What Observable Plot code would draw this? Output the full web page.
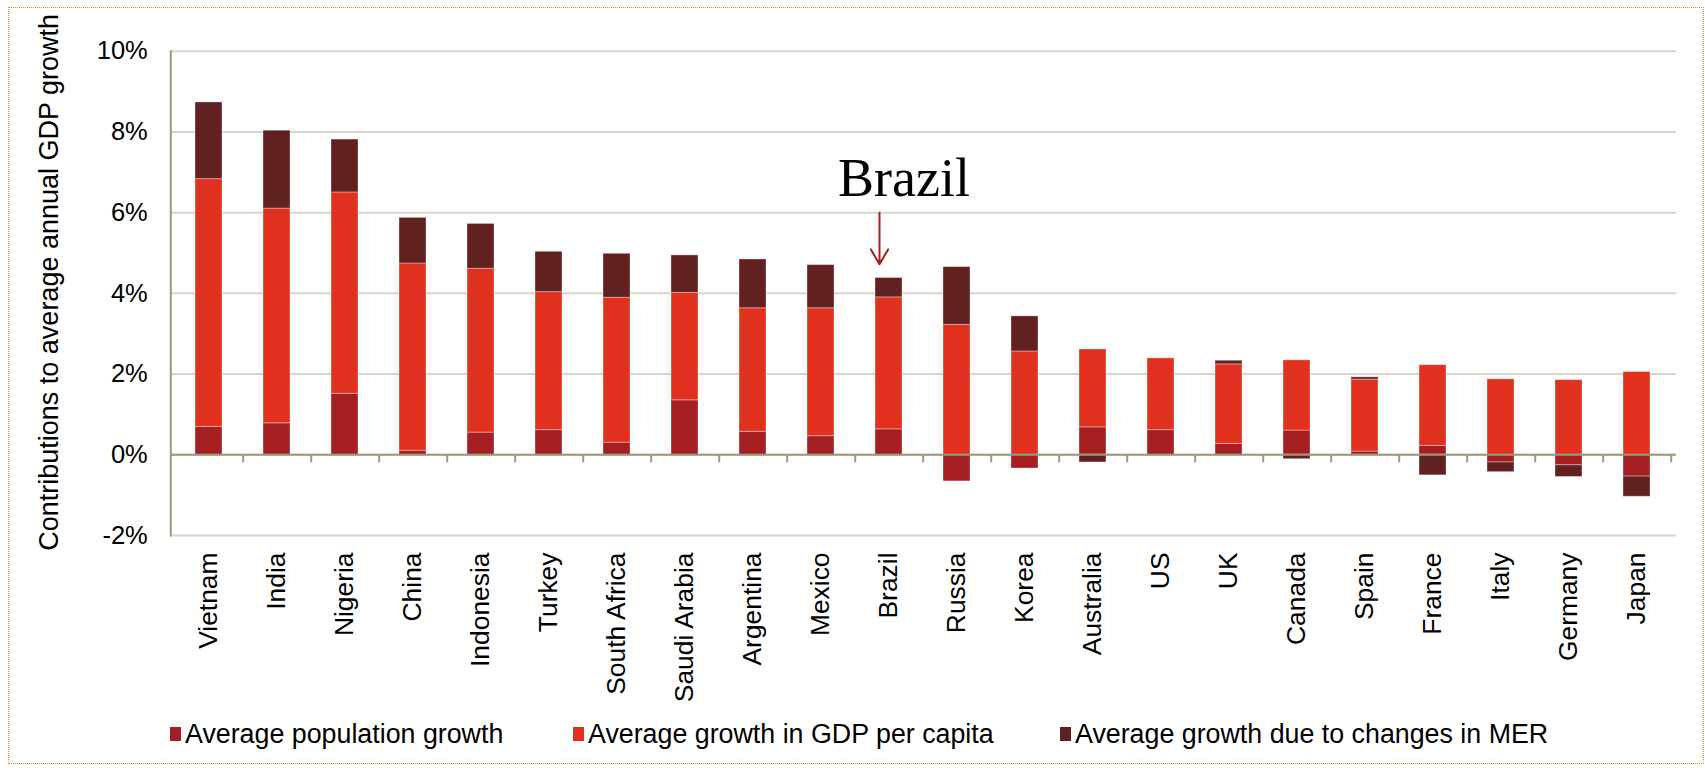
<!DOCTYPE html>
<html>
<head>
<meta charset="utf-8">
<script src="https://cdn.jsdelivr.net/npm/d3@7"></script>
<script src="https://cdn.jsdelivr.net/npm/@observablehq/plot@0.6"></script>
<style>
html, body { margin: 0; padding: 0; background: #fff; }
#wrap { position: relative; width: 1705px; height: 768px; overflow: hidden; font-family: "Liberation Sans", Arial, sans-serif; }
#frame { position: absolute; left: 8px; top: 7px; width: 1696px; height: 757px; border: 1.5px dotted #E8892B; box-sizing: border-box; }
#chart { position: absolute; left: 0; top: 0; }
.sw { position: absolute; top: 727px; width: 11px; height: 14px; }
.lt { position: absolute; top: 718.5px; font-size: 26.8px; line-height: 30px; color: #000; white-space: nowrap; }
</style>
</head>
<body>
<div id="wrap">
  <div id="frame"></div>
  <div id="chart"></div>
  <div id="legend"></div>
</div>
<script>
// ---- data ----
const countries = ["Vietnam","India","Nigeria","China","Indonesia","Turkey","South Africa","Saudi Arabia","Argentina","Mexico","Brazil","Russia","Korea","Australia","US","UK","Canada","Spain","France","Italy","Germany","Japan"];
const popGrowth = [0.69,0.78,1.51,0.10,0.55,0.61,0.30,1.35,0.57,0.46,0.63,-0.66,-0.34,0.68,0.61,0.27,0.60,0.08,0.22,-0.19,-0.26,-0.54];
const gdpPcGrowth = [6.14,5.32,4.99,4.64,4.06,3.42,3.59,2.66,3.06,3.17,3.27,3.22,2.56,1.93,1.78,1.97,1.74,1.78,2.00,1.87,1.85,2.05];
const merGrowth = [1.90,1.93,1.31,1.13,1.11,1.00,1.09,0.93,1.21,1.07,0.48,1.43,0.87,-0.19,0.00,0.09,-0.11,0.06,-0.51,-0.24,-0.29,-0.50];
const seriesNames = ["Average population growth","Average growth in GDP per capita","Average growth due to changes in MER"];
const seriesColors = ["#A41F22","#E0301E","#602120"];
const yTicks = [-2,0,2,4,6,8,10];
const yTitle = "Contributions to average annual GDP growth";
const annotation = {country: "Brazil", textY: 6.41, arrowFrom: 6.0, arrowTo: 4.72};

// ---- build long table ----
const seriesValues = [popGrowth, gdpPcGrowth, merGrowth];
const rows = [];
countries.forEach((c, i) => {
  seriesNames.forEach((s, k) => rows.push({country: c, series: s, value: seriesValues[k][i]}));
});

const W = 1705, H = 712;
const mL = 170.3, mR = 29.2, mT = 50.7, mB = H - 535;
const step = (W - mL - mR) / countries.length;
const olive = "#A0977A";
const grid = "#D9D4C7";

const chart = Plot.plot({
  width: W,
  height: H,
  marginLeft: mL,
  marginRight: mR,
  marginTop: mT,
  marginBottom: mB,
  style: {fontFamily: "'Liberation Sans', Arial, sans-serif", color: "#000", background: "transparent", overflow: "visible"},
  x: {domain: countries, paddingInner: 0.6, paddingOuter: 0.3},
  y: {domain: [-2, 10]},
  color: {domain: seriesNames, range: seriesColors},
  marks: [
    Plot.ruleY(yTicks, {stroke: grid, strokeWidth: 2}),
    Plot.barY(rows, {x: "country", y: "value", fill: "series", stroke: "#fff", strokeOpacity: 0.35, strokeWidth: 1}),
    Plot.ruleY([0], {stroke: olive, strokeWidth: 2}),
    Plot.ruleX(countries, {x: d => d, y1: 0, y2: 0, dx: step / 2, insetBottom: -8, stroke: olive, strokeWidth: 2}),
    Plot.frame({anchor: "left", stroke: olive, strokeWidth: 2}),
    Plot.axisY({ticks: yTicks, tickFormat: d => d + "%", tickSize: 0, tickPadding: 23, fontSize: 25.5, label: null, fill: "#000"}),
    Plot.axisX({tickSize: 0, tickRotate: -90, tickPadding: 17, fontSize: 26.4, label: null, fill: "#000"}),
    Plot.text([yTitle], {frameAnchor: "left", text: d => d, rotate: -90, textAnchor: "middle", lineAnchor: "bottom", dx: 57 - mL, dy: -11, fontSize: 27, fill: "#000"}),
    Plot.text([annotation], {x: "country", y: "textY", text: "country", lineAnchor: "bottom", dx: 15, fontFamily: "'Liberation Serif', 'Times New Roman', serif", fontSize: 54, fill: "#000"}),
    Plot.arrow([annotation], {x1: "country", x2: "country", y1: "arrowFrom", y2: "arrowTo", dx: -9.5, stroke: "#A41F22", strokeWidth: 2, headLength: 20, headAngle: 60})
  ]
});
document.getElementById("chart").appendChild(chart);

// ---- legend ----
const legendLeft = [170, 573, 1060];
const lg = document.getElementById("legend");
seriesNames.forEach((s, k) => {
  const sw = document.createElement("div");
  sw.className = "sw";
  sw.style.left = legendLeft[k] + "px";
  sw.style.background = seriesColors[k];
  lg.appendChild(sw);
  const t = document.createElement("div");
  t.className = "lt";
  t.style.left = (legendLeft[k] + 15) + "px";
  t.textContent = s;
  lg.appendChild(t);
});
</script>
</body>
</html>
